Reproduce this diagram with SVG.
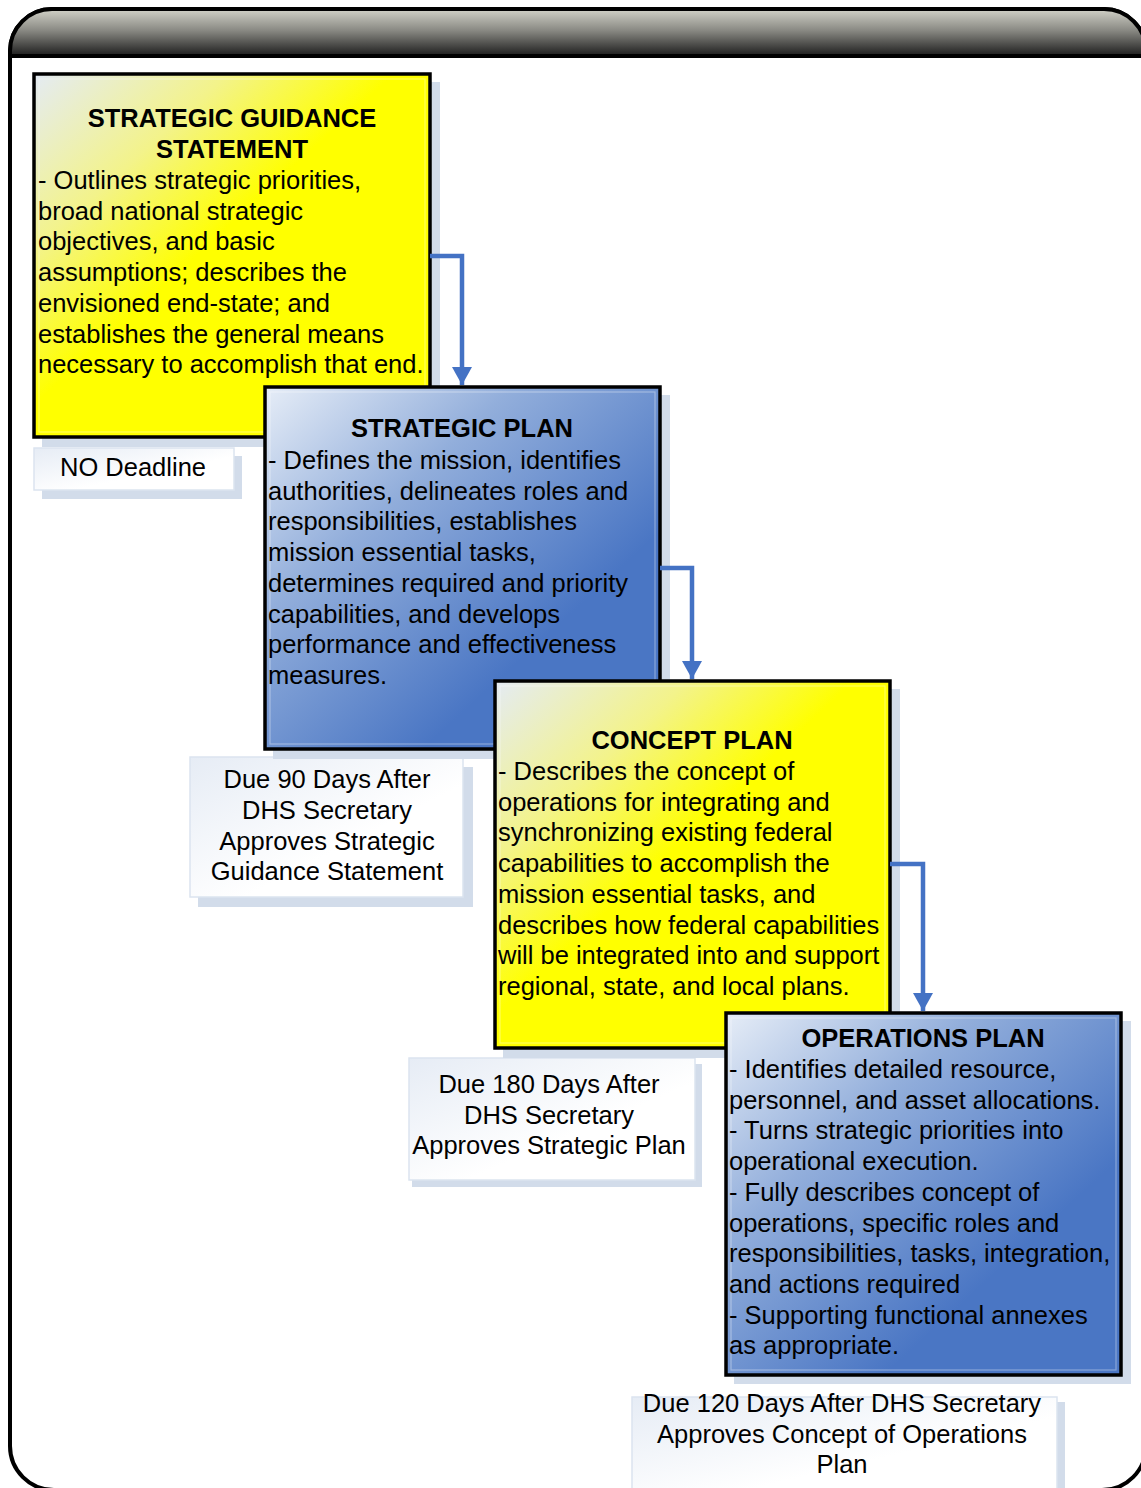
<svg xmlns="http://www.w3.org/2000/svg" width="1141" height="1488" viewBox="0 0 1141 1488">
<defs>
<linearGradient id="gYel" x1="0" y1="0" x2="0.7" y2="0.7">
<stop offset="0" stop-color="#e4ebf4"/>
<stop offset="0.35" stop-color="#f3f38a"/>
<stop offset="0.65" stop-color="#ffff00"/>
</linearGradient>
<linearGradient id="gBlue" x1="0" y1="0" x2="0.7" y2="0.7">
<stop offset="0" stop-color="#e6edf7"/>
<stop offset="0.45" stop-color="#92aedb"/>
<stop offset="1" stop-color="#4a76c4"/>
</linearGradient>
<linearGradient id="gLab" x1="0" y1="0" x2="1" y2="1">
<stop offset="0" stop-color="#e6ecf5"/>
<stop offset="0.6" stop-color="#ffffff"/>
</linearGradient>
<linearGradient id="gHead" x1="0" y1="0" x2="0" y2="1">
<stop offset="0" stop-color="#d2d2c8"/>
<stop offset="0.45" stop-color="#8a8a84"/>
<stop offset="1" stop-color="#1c1c1c"/>
</linearGradient>
<marker id="arr" viewBox="0 0 18 20" refX="18" refY="10" markerWidth="18" markerHeight="20" markerUnits="userSpaceOnUse" orient="auto">
<path d="M0,0 L18,10 L0,20 Z" fill="#4472c4"/>
</marker>
<style>
.t{font-family:"Liberation Sans",Arial,sans-serif;font-size:25.5px;fill:#000}
.b{font-weight:bold}
.box{stroke:#000;stroke-width:3.5}
.inner{fill:none;stroke:#ffffff;stroke-opacity:0.35;stroke-width:1.2}
.sh{fill:#d2dcea}
.lab{fill:url(#gLab);stroke:#dbe4ef;stroke-width:1.5}
.con{fill:none;stroke:#4472c4;stroke-width:4.5}
</style>
</defs>
<!-- frame -->
<path d="M10,1446 V51 A42,42 0 0 1 52,9 H1104 A42,42 0 0 1 1146,51 V1446 A44,44 0 0 1 1102,1490 H54 A44,44 0 0 1 10,1446 Z" fill="#ffffff" stroke="#000" stroke-width="4"/>
<path d="M10,56 V51 A42,42 0 0 1 52,9 H1104 A42,42 0 0 1 1146,51 V56 Z" fill="url(#gHead)" stroke="#000" stroke-width="4"/>
<line x1="10" y1="56" x2="1146" y2="56" stroke="#000" stroke-width="3"/>

<!-- labels -->
<g id="label-none">
<rect class="sh" x="42" y="456" width="200" height="43"/>
<rect class="lab" x="34" y="448" width="200" height="42"/>
<text class="t" x="133" y="476" text-anchor="middle">NO Deadline</text>
</g>
<g id="label-90">
<rect class="sh" x="198" y="767" width="275" height="140"/>
<rect class="lab" x="190" y="757" width="273" height="140"/>
<text class="t" x="327" y="788" text-anchor="middle"><tspan x="327">Due 90 Days After</tspan><tspan x="327" dy="30.8">DHS Secretary</tspan><tspan x="327" dy="30.8">Approves Strategic</tspan><tspan x="327" dy="30.8">Guidance Statement</tspan></text>
</g>
<g id="label-180">
<rect class="sh" x="412" y="1064" width="290" height="123"/>
<rect class="lab" x="409" y="1058" width="286" height="122"/>
<text class="t" x="549" y="1093" text-anchor="middle"><tspan x="549">Due 180 Days After</tspan><tspan x="549" dy="30.5">DHS Secretary</tspan><tspan x="549" dy="30.5">Approves Strategic Plan</tspan></text>
</g>
<g id="label-120">
<rect class="sh" x="637" y="1402" width="428" height="100"/>
<rect class="lab" x="632" y="1397" width="425" height="100"/>
<text class="t" x="842" y="1412" text-anchor="middle"><tspan x="842">Due 120 Days After DHS Secretary</tspan><tspan x="842" dy="30.5">Approves Concept of Operations</tspan><tspan x="842" dy="30.5">Plan</tspan></text>
</g>

<!-- node 1 -->
<g id="node-sgs">
<rect class="sh" x="42" y="82" width="398" height="365"/>
<rect class="box" x="34" y="74" width="396" height="363" fill="url(#gYel)"/>
<rect class="inner" x="39" y="79" width="386" height="353"/>
<text class="t b" x="232" y="127" text-anchor="middle"><tspan x="232">STRATEGIC GUIDANCE</tspan><tspan x="232" dy="30.8">STATEMENT</tspan></text>
<text class="t" x="38" y="189"><tspan x="38">- Outlines strategic priorities,</tspan><tspan x="38" dy="30.7">broad national strategic</tspan><tspan x="38" dy="30.7">objectives, and basic</tspan><tspan x="38" dy="30.7">assumptions; describes the</tspan><tspan x="38" dy="30.7">envisioned end-state; and</tspan><tspan x="38" dy="30.7">establishes the general means</tspan><tspan x="38" dy="30.7">necessary to accomplish that end.</tspan></text>
</g>

<!-- node 2 -->
<g id="node-sp">
<rect class="sh" x="273" y="395" width="397" height="364"/>
<rect class="box" x="265" y="387" width="395" height="362" fill="url(#gBlue)"/>
<rect class="inner" x="270" y="392" width="385" height="352"/>
<text class="t b" x="462" y="437" text-anchor="middle">STRATEGIC PLAN</text>
<text class="t" x="268" y="469"><tspan x="268">- Defines the mission, identifies</tspan><tspan x="268" dy="30.7">authorities, delineates roles and</tspan><tspan x="268" dy="30.7">responsibilities, establishes</tspan><tspan x="268" dy="30.7">mission essential tasks,</tspan><tspan x="268" dy="30.7">determines required and priority</tspan><tspan x="268" dy="30.7">capabilities, and develops</tspan><tspan x="268" dy="30.7">performance and effectiveness</tspan><tspan x="268" dy="30.7">measures.</tspan></text>
</g>

<!-- node 3 -->
<g id="node-cp">
<rect class="sh" x="503" y="689" width="397" height="369"/>
<rect class="box" x="495" y="681" width="395" height="367" fill="url(#gYel)"/>
<rect class="inner" x="500" y="686" width="385" height="357"/>
<text class="t b" x="692" y="749" text-anchor="middle">CONCEPT PLAN</text>
<text class="t" x="498" y="780"><tspan x="498">- Describes the concept of</tspan><tspan x="498" dy="30.7">operations for integrating and</tspan><tspan x="498" dy="30.7">synchronizing existing federal</tspan><tspan x="498" dy="30.7">capabilities to accomplish the</tspan><tspan x="498" dy="30.7">mission essential tasks, and</tspan><tspan x="498" dy="30.7">describes how federal capabilities</tspan><tspan x="498" dy="30.7">will be integrated into and support</tspan><tspan x="498" dy="30.7">regional, state, and local plans.</tspan></text>
</g>

<!-- node 4 -->
<g id="node-op">
<rect class="sh" x="734" y="1021" width="397" height="363"/>
<rect class="box" x="726" y="1013" width="395" height="362" fill="url(#gBlue)"/>
<rect class="inner" x="731" y="1018" width="385" height="352"/>
<text class="t b" x="923" y="1047" text-anchor="middle">OPERATIONS PLAN</text>
<text class="t" x="729" y="1078"><tspan x="729">- Identifies detailed resource,</tspan><tspan x="729" dy="30.7">personnel, and asset allocations.</tspan><tspan x="729" dy="30.7">- Turns strategic priorities into</tspan><tspan x="729" dy="30.7">operational execution.</tspan><tspan x="729" dy="30.7">- Fully describes concept of</tspan><tspan x="729" dy="30.7">operations, specific roles and</tspan><tspan x="729" dy="30.7">responsibilities, tasks, integration,</tspan><tspan x="729" dy="30.7">and actions required</tspan><tspan x="729" dy="30.7">- Supporting functional annexes</tspan><tspan x="729" dy="30.7">as appropriate.</tspan></text>
</g>

<!-- connectors -->
<g id="connectors">
<path class="con" d="M430,256 H462 V385" marker-end="url(#arr)"/>
<path class="con" d="M660,568 H692 V679" marker-end="url(#arr)"/>
<path class="con" d="M890,864 H923 V1011" marker-end="url(#arr)"/>
</g>
</svg>
